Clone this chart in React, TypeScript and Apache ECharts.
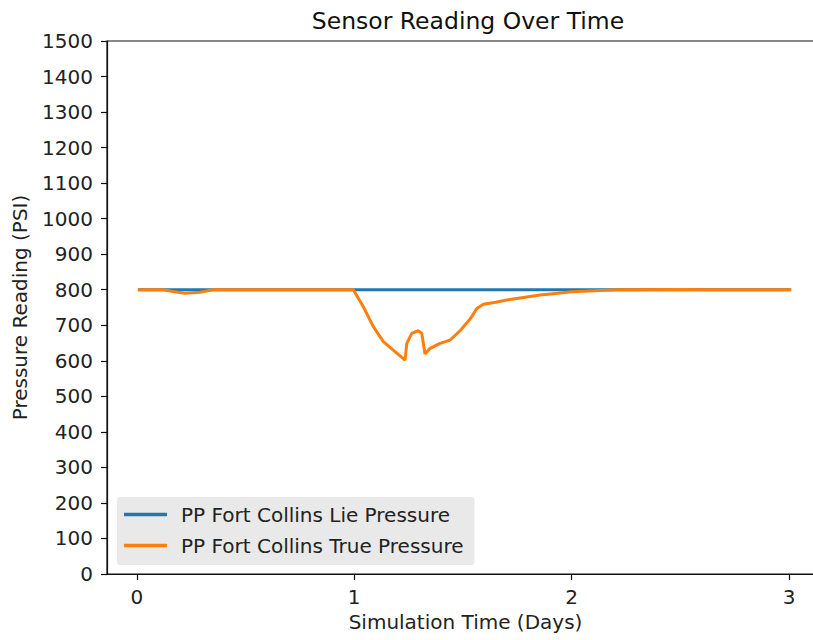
import React, { useEffect, useRef } from "react";
import * as echarts from "echarts";

const chartTitle = "Sensor Reading Over Time";
const xAxisLabel = "Simulation Time (Days)";
const yAxisLabel = "Pressure Reading (PSI)";
const xTickValues = [0, 1, 2, 3];

const lieName = "PP Fort Collins Lie Pressure";
const lieTimes = [0.005, 0.5, 1.0, 1.5, 2.0, 2.5, 3.01];
const lieValues = [800, 800, 800, 800, 800, 800, 800];

const trueName = "PP Fort Collins True Pressure";
const trueTimes = [
  0.005, 0.12, 0.167, 0.222, 0.29, 0.351, 0.5, 0.8, 0.996, 1.042, 1.088, 1.134,
  1.188, 1.234, 1.242, 1.265, 1.295, 1.311, 1.326, 1.349, 1.395, 1.441, 1.489,
  1.535, 1.564, 1.594, 1.65, 1.702, 1.763, 1.855, 1.915, 2.0, 2.13, 2.22, 2.5,
  2.7, 3.01,
];
const trueValues = [
  800, 800, 795, 790, 793, 800, 800, 800, 800, 752, 696, 654,
  626, 602, 649, 677, 685, 677, 619, 635, 649, 658, 686,
  719, 747, 759, 765, 771, 777, 785, 789, 794, 798, 800, 801,
  800, 800,
];

const FONT = "DejaVu Sans";
const FS = 20;

export default function App() {
  const ref = useRef<HTMLDivElement>(null);
  useEffect(() => {
    if (!ref.current) return;
    const chart = echarts.init(ref.current, undefined, { renderer: "svg" });
    const lieData = lieTimes.map((t, i) => [t, lieValues[i]]);
    const trueData = trueTimes.map((t, i) => [t, trueValues[i]]);
    chart.setOption({
      animation: false,
      backgroundColor: "#ffffff",
      textStyle: { fontFamily: FONT },
      title: {
        text: chartTitle,
        left: 463,
        top: 4,
        textAlign: "center",
        textStyle: { fontFamily: FONT, fontSize: 23.5, fontWeight: "normal", color: "#111" },
      },
      grid: {
        left: 107,
        top: 41,
        width: 717,
        height: 533,
        show: true,
        borderColor: "#111",
        borderWidth: 1.2,
        backgroundColor: "transparent",
      },
      legend: {
        orient: "vertical",
        left: 117,
        top: 497,
        padding: [7, 11, 9, 7],
        itemGap: 10,
        itemWidth: 43,
        itemHeight: 3.5,
        icon: "rect",
        backgroundColor: "#e9e9e9",
        borderRadius: 3,
        textStyle: {
          fontFamily: FONT,
          fontSize: FS,
          color: "#222",
          lineHeight: 21,
          padding: [0, 0, 0, 9],
        },
        data: [lieName, trueName],
      },
      xAxis: {
        type: "value",
        min: -0.137,
        max: 3.161,
        name: xAxisLabel,
        nameLocation: "middle",
        nameGap: 37,
        nameTextStyle: { fontFamily: FONT, fontSize: FS, color: "#222", verticalAlign: "top" },
        axisLine: { show: true, onZero: false, lineStyle: { color: "#111", width: 1.2 } },
        axisTick: { show: true, length: 6, customValues: xTickValues, lineStyle: { color: "#111", width: 1.2 } },
        axisLabel: {
          customValues: xTickValues,
          margin: 13,
          fontFamily: FONT,
          fontSize: FS,
          color: "#222",
          formatter: (v: number) => String(v),
        },
        splitLine: { show: false },
      },
      yAxis: {
        type: "value",
        min: 0,
        max: 1500,
        interval: 100,
        name: yAxisLabel,
        nameLocation: "middle",
        nameGap: 77,
        nameTextStyle: { fontFamily: FONT, fontSize: FS, color: "#222" },
        axisLine: { show: true, onZero: false, lineStyle: { color: "#111", width: 1.2 } },
        axisTick: { show: true, length: 6, lineStyle: { color: "#111", width: 1.2 } },
        axisLabel: {
          margin: 14,
          fontFamily: FONT,
          fontSize: FS,
          color: "#222",
          formatter: (v: number) => String(v),
        },
        splitLine: { show: false },
      },
      series: [
        {
          name: lieName,
          type: "line",
          data: lieData,
          showSymbol: false,
          color: "#1f77b4",
          lineStyle: { width: 3, color: "#1f77b4" },
        },
        {
          name: trueName,
          type: "line",
          data: trueData,
          showSymbol: false,
          color: "#ff7f0e",
          lineStyle: { width: 3, color: "#ff7f0e" },
        },
      ],
    });
    return () => chart.dispose();
  }, []);
  return (
    <div
      ref={ref}
      style={{ position: "fixed", left: 0, top: 0, width: 830, height: 640 }}
    />
  );
}
